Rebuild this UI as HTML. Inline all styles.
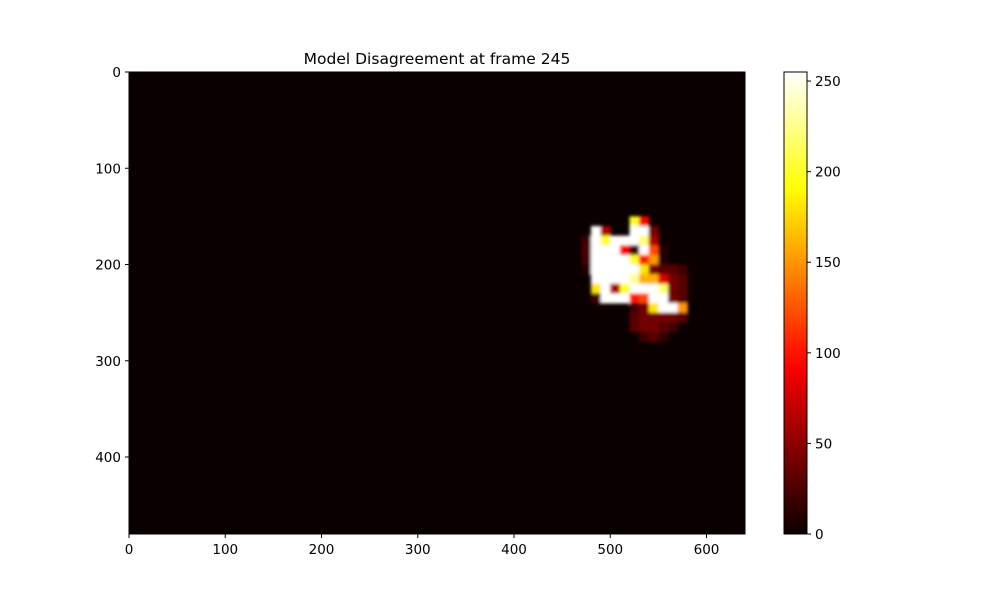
<!DOCTYPE html>
<html><head><meta charset="utf-8"><style>
body{margin:0;background:#fff;font-family:"Liberation Sans","DejaVu Sans",sans-serif}
svg text{font-family:"DejaVu Sans","Liberation Sans",sans-serif;font-size:13.5px;fill:#000}
</style></head><body>
<svg id="chart" width="1000" height="600" xmlns="http://www.w3.org/2000/svg">
<defs>
<filter id="soft" x="-20%" y="-20%" width="140%" height="140%"><feGaussianBlur stdDeviation="1.5"/></filter>
<clipPath id="plotclip"><rect x="129" y="72" width="616" height="462"/></clipPath>
<linearGradient id="cbgrad" x1="0" y1="1" x2="0" y2="0"></linearGradient>
</defs>
<text x="437" y="64" text-anchor="middle" style="font-size:15.5px">Model Disagreement at frame 245</text>
<rect x="129" y="72" width="616" height="462" fill="#0b0000"/>
<g id="cells" clip-path="url(#plotclip)" filter="url(#soft)"></g>
<rect x="129" y="72" width="616" height="462" fill="none" stroke="#000" stroke-width="1"/>
<g id="axes"></g>
<rect x="784" y="72" width="23" height="462" fill="url(#cbgrad)" stroke="#000" stroke-width="1"/>
</svg>
<script>
const colStart = [470,480,490,500,510,520,530,540,550,560,570,580,590];
const rowStart = [150,160,170,180,190,200,210,220,230,240,250,260,270];
const cellValues = [
[0,0,0,0,0,200,90,0,0,0,0,0,0],
[0,255,60,0,0,255,255,40,0,0,0,0,0],
[20,255,200,255,255,255,220,60,0,0,0,0,0],
[25,255,255,255,90,20,255,120,10,0,0,0,0],
[20,255,255,255,255,200,100,150,10,0,0,0,0],
[10,255,255,255,255,255,180,40,30,30,20,0,0],
[0,255,255,255,255,230,160,160,80,40,30,0,0],
[0,180,255,60,200,255,255,255,220,40,30,0,0],
[0,20,255,255,255,100,120,255,255,40,30,0,0],
[0,0,0,0,0,20,40,180,255,255,150,0,0],
[0,0,0,0,0,30,40,40,40,40,30,0,0],
[0,0,0,0,0,30,40,40,30,20,0,0,0],
[0,0,0,0,0,0,20,30,15,0,0,0,0]];
const cellSize = 10;
const xTicks = [0,100,200,300,400,500,600];
const yTicks = [0,100,200,300,400];
const cbTicks = [0,50,100,150,200,250];
const vmax = 255;
const ns='http://www.w3.org/2000/svg';
const sx = v => 129 + v*616/640;
const sy = v => 72 + v*462/480;
const cy = v => 534 - v*462/vmax;
function hot(v){const t=Math.max(0,Math.min(1,v/vmax));
 const r=Math.min(1,t/0.365),g=Math.max(0,Math.min(1,(t-0.365)/0.381)),b=Math.max(0,Math.min(1,(t-0.746)/0.254));
 return `rgb(${Math.round(10+245*r)},${Math.round(255*g)},${Math.round(255*b)})`;}
const cells=document.getElementById('cells');
cellValues.forEach((row,i)=>row.forEach((v,j)=>{
 if(v<=0) return;
 const r=document.createElementNS(ns,'rect');
 
 
 r.setAttribute('x',sx(colStart[j]));r.setAttribute('y',sy(rowStart[i]));
 r.setAttribute('width',sx(cellSize)-sx(0)+0.5);r.setAttribute('height',sy(cellSize)-sy(0)+0.5);
 r.setAttribute('fill',hot(v));cells.appendChild(r);}));
const grad=document.getElementById('cbgrad');
for(let k=0;k<=20;k++){const s=document.createElementNS(ns,'stop');s.setAttribute('offset',k/20);s.setAttribute('stop-color',hot(k/20*vmax));grad.appendChild(s);}
const axes=document.getElementById('axes');
function line(x1,y1,x2,y2,name){const l=document.createElementNS(ns,'line');
 
 
 l.setAttribute('x1',x1);l.setAttribute('y1',y1);l.setAttribute('x2',x2);l.setAttribute('y2',y2);l.setAttribute('stroke','#000');axes.appendChild(l);}
function text(x,y,s,anchor,name){const t=document.createElementNS(ns,'text');
 
 
 t.setAttribute('x',x);t.setAttribute('y',y);t.setAttribute('text-anchor',anchor);t.textContent=s;axes.appendChild(t);}
xTicks.forEach(v=>{line(sx(v),534,sx(v),538,'x-tick');text(sx(v),554,v,'middle','x-tick-label');});
yTicks.forEach(v=>{line(125,sy(v),129,sy(v),'y-tick');text(121,sy(v)+5,v,'end','y-tick-label');});
cbTicks.forEach(v=>{line(807,cy(v),811,cy(v),'colorbar-tick');text(815,cy(v)+5,v,'start','colorbar-tick-label');});
</script>
</body></html>
